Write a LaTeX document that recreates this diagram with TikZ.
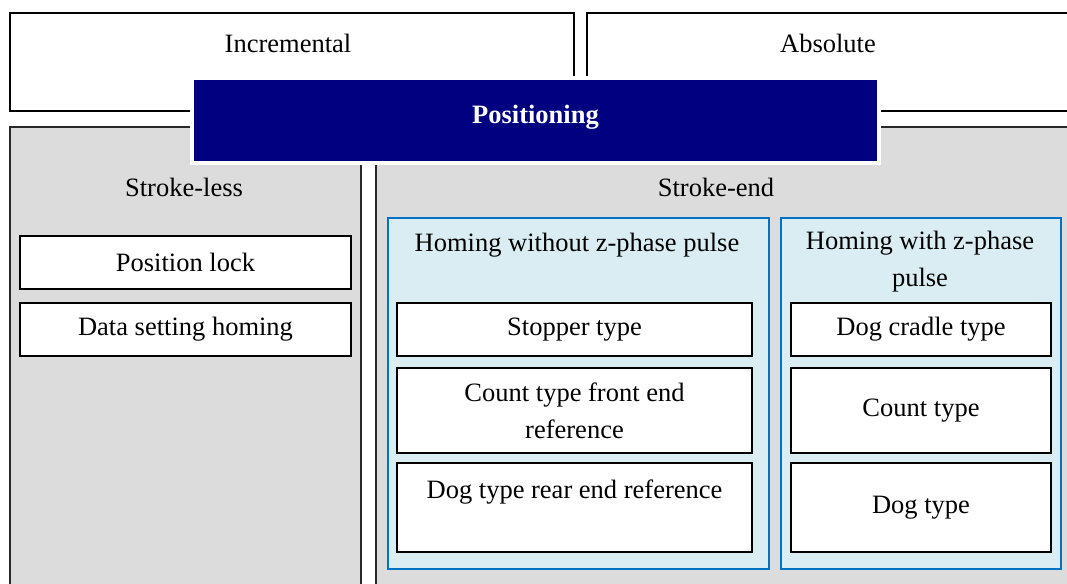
\documentclass[tikz,border=0pt]{standalone}
\usepackage{fontspec}
\setmainfont{Liberation Serif}
\usepackage{tikz}
\usetikzlibrary{positioning}
\definecolor{mynavy}{RGB}{0,0,128}
\definecolor{mygray}{RGB}{220,220,220}
\definecolor{myedge}{RGB}{40,40,40}
\definecolor{hdrblue}{RGB}{218,237,243}
\definecolor{myblue}{RGB}{0,114,198}
\tikzset{
  frame/.style={rectangle, draw=black, fill=white, line width=2pt,
    anchor=north west, inner sep=0pt},
  panel/.style={rectangle, draw=myedge, fill=mygray, line width=2pt,
    anchor=north west, inner sep=0pt},
  group/.style={rectangle, draw=myblue, fill=hdrblue, line width=2pt,
    anchor=north west, inner sep=0pt},
  item/.style={rectangle, draw=black, fill=white, line width=2pt,
    anchor=north west, inner sep=0pt, align=center,
    font=\fontsize{26.5}{37}\selectfont},
  ttl/.style={inner sep=0pt, align=center, font=\fontsize{26.5}{37}\selectfont},
  header/.style={rectangle, draw=white, fill=mynavy, line width=4pt,
    anchor=north west, inner sep=0pt, text=white, text depth=12pt,
    font=\fontsize{26.5}{37}\selectfont\bfseries}
}

\begin{document}
\begin{tikzpicture}[x=1pt, y=-1pt]
  \useasboundingbox (0,0) rectangle (1067,583);
  \clip (0,0) rectangle (1067,583);
  % ── top row: encoder kinds ────────────────────────────────────────────
  \node[frame, minimum width=564pt, minimum height=98pt] (incr) at (9,12) {};
  \node[frame, minimum width=490pt, minimum height=98pt] (abs) at (586,12) {};
  \node[ttl] (incrT) at (288,43) {Incremental};
  \node[ttl] (absT) at (828,43) {Absolute};

  % ── gray panels ───────────────────────────────────────────────────────
  \node[panel, minimum width=351pt, minimum height=480pt] (less) at (9,126) {};
  \node[panel, minimum width=710pt, minimum height=480pt] (end) at (375,126) {};
  \node[ttl] (lessT) at (184,187) {Stroke-less};
  \node[ttl] (endT) at (716,187) {Stroke-end};

  % Header bar on top
  \node[header, minimum width=687pt, minimum height=85pt] (pos) at (190,76) {Positioning};

  % Stroke-less items
  \node[item, minimum width=331pt, minimum height=53pt] (lock) at (19,235) {Position lock};
  \node[item, minimum width=331pt, minimum height=53pt] (dsh) at (19,302) {Data setting homing};

  % ── homing groups ─────────────────────────────────────────────────────
  \node[group, minimum width=381pt, minimum height=351pt] (noz) at (387,217) {};
  \node[group, minimum width=280pt, minimum height=351pt] (withz) at (780,217) {};
  \node[ttl] (nozT) at (577,245) {Homing without z-phase pulse};
  \node[ttl] (withzT) at (920,262) {Homing with z-phase\\pulse};

  % Without z-phase pulse
  \node[item, minimum width=355pt, minimum height=53pt] (stop) at (396,302) {Stopper type};
  \node[item, minimum width=355pt, minimum height=85pt] (cfront) at (396,367) {Count type front end\\reference};
  \node[item, minimum width=355pt, minimum height=89pt] (drear) at (396,462) {Dog type rear end reference\\~};

  % With z-phase pulse
  \node[item, minimum width=260pt, minimum height=53pt] (cradle) at (790,302) {Dog cradle type};
  \node[item, minimum width=260pt, minimum height=85pt] (count) at (790,367) {Count type};
  \node[item, minimum width=260pt, minimum height=89pt] (dog) at (790,462) {Dog type};
\end{tikzpicture}
\end{document}
